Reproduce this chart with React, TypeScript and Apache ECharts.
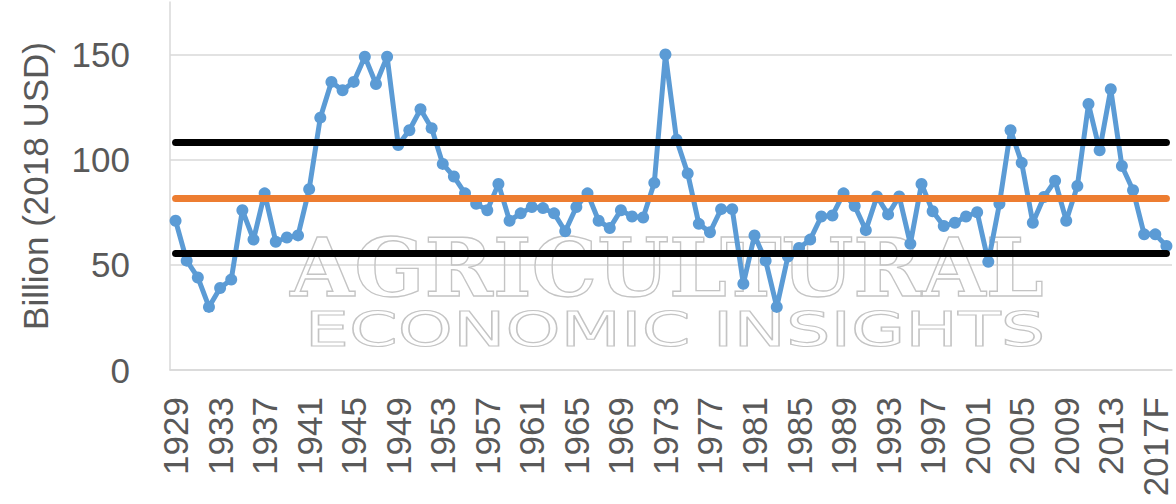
import React, { useEffect, useRef } from "react";
import * as echarts from "echarts";

// Categories (years); the last two are forecasts
const categories: string[] = [
  "1929", "1930", "1931", "1932", "1933", "1934", "1935", "1936", "1937", "1938",
  "1939", "1940", "1941", "1942", "1943", "1944", "1945", "1946", "1947", "1948",
  "1949", "1950", "1951", "1952", "1953", "1954", "1955", "1956", "1957", "1958",
  "1959", "1960", "1961", "1962", "1963", "1964", "1965", "1966", "1967", "1968",
  "1969", "1970", "1971", "1972", "1973", "1974", "1975", "1976", "1977", "1978",
  "1979", "1980", "1981", "1982", "1983", "1984", "1985", "1986", "1987", "1988",
  "1989", "1990", "1991", "1992", "1993", "1994", "1995", "1996", "1997", "1998",
  "1999", "2000", "2001", "2002", "2003", "2004", "2005", "2006", "2007", "2008",
  "2009", "2010", "2011", "2012", "2013", "2014", "2015", "2016", "2017F", "2018F",
];

// Billion (2018 USD)
const values: number[] = [
  71, 52, 44, 30, 39, 43, 76, 62, 84, 61,
  63, 64, 86, 120, 137, 133, 137, 149, 136, 149,
  107, 114, 124, 115, 98, 92, 84, 79, 76, 88.5,
  71, 74.5, 77.5, 77, 74.5, 66, 77.5, 84, 71, 67.5,
  76, 73, 72.5, 89, 150, 109.5, 93.5, 69.5, 65.5, 76.5,
  76.5, 41, 64, 52, 30, 54, 58, 62, 73, 73.5,
  84, 78, 66.5, 82.5, 74, 82.5, 60, 88.5, 75.5, 68.5,
  70, 73, 75, 51.5, 79, 114, 98.5, 70, 82.3, 90,
  71, 87.5, 126.5, 104.5, 133.5, 97, 85.5, 64.5, 64.5, 59,
];

// Reference lines: average and ±1 standard deviation
const meanValue = 81.5;
const upperValue = 108.4;
const lowerValue = 55.6;

const yTickLabels = ["0", "50", "100", "150"];
const yAxisTitle = "Billion (2018 USD)";
const watermarkTop = "AGRICULTURAL";
const watermarkBottom = "ECONOMIC INSIGHTS";

const FONT = "Liberation Sans";
const TEXT_COLOR = "#595959";
const GRID_COLOR = "#d9d9d9";

function refLine(value: number, color: string, name: string) {
  return {
    name,
    type: "line",
    data: [],
    z: 4,
    markLine: {
      silent: true,
      symbol: "none",
      animation: false,
      label: { show: false },
      lineStyle: { color, width: 7, type: "solid", cap: "round" },
      data: [
        [
          { coord: [categories[0], value] },
          { coord: [categories[categories.length - 1], value] },
        ],
      ],
    },
  };
}

export default function App() {
  const ref = useRef<HTMLDivElement>(null);

  useEffect(() => {
    if (!ref.current) return;
    const chart = echarts.init(ref.current, null, { renderer: "svg" });
    chart.setOption({
      animation: false,
      backgroundColor: "#ffffff",
      grid: { left: 170, right: 4, top: 2, bottom: 134, containLabel: false },
      graphic: [
        {
          type: "text",
          z: 1,
          x: 667,
          y: 268,
          scaleX: 1.03,
          silent: true,
          style: {
            text: watermarkTop,
            fontFamily: "DejaVu Serif",
            fontWeight: "bold",
            fontSize: 80,
            fill: "rgba(255,255,255,0)",
            stroke: "#c4c4c4",
            lineWidth: 1.3,
            textAlign: "center",
            textVerticalAlign: "middle",
          },
        },
        {
          type: "text",
          z: 1,
          x: 675,
          y: 329,
          scaleX: 1.46,
          silent: true,
          style: {
            text: watermarkBottom,
            fontFamily: "DejaVu Sans",
            fontSize: 48,
            fill: "rgba(255,255,255,0)",
            stroke: "#c4c4c4",
            lineWidth: 1.1,
            textAlign: "center",
            textVerticalAlign: "middle",
          },
        },
      ],
      xAxis: {
        type: "category",
        data: categories,
        boundaryGap: true,
        axisLine: { show: true, lineStyle: { color: GRID_COLOR, width: 1.5 } },
        axisTick: { show: false },
        splitLine: { show: false },
        axisLabel: {
          interval: 3,
          rotate: 90,
          margin: 27,
          fontSize: 35,
          fontFamily: FONT,
          color: TEXT_COLOR,
        },
      },
      yAxis: {
        type: "value",
        min: 0,
        max: 175,
        interval: 50,
        name: yAxisTitle,
        nameLocation: "middle",
        nameGap: 117,
        nameTextStyle: { fontSize: 35, fontFamily: FONT, color: TEXT_COLOR },
        axisLine: { show: true, lineStyle: { color: GRID_COLOR, width: 1.5 } },
        axisTick: { show: false },
        splitLine: {
          show: true,
          showMaxLine: false,
          lineStyle: { color: GRID_COLOR, width: 1.5 },
        },
        axisLabel: {
          margin: 40,
          fontSize: 35,
          fontFamily: FONT,
          color: TEXT_COLOR,
          formatter: (v: number) => {
            const s = String(v);
            return yTickLabels.indexOf(s) >= 0 ? s : "";
          },
        },
      },
      series: [
        {
          name: "Net farm income",
          type: "line",
          data: values,
          z: 3,
          clip: false,
          showSymbol: true,
          showAllSymbol: true,
          symbol: "circle",
          symbolSize: 12,
          itemStyle: { color: "#5b9bd5" },
          lineStyle: { color: "#5b9bd5", width: 5, cap: "round", join: "round" },
        },
        refLine(meanValue, "#ed7d31", "Average"),
        refLine(upperValue, "#000000", "Upper"),
        refLine(lowerValue, "#000000", "Lower"),
      ],
    });
    return () => chart.dispose();
  }, []);

  return (
    <div
      ref={ref}
      style={{ position: "fixed", left: 0, top: 0, width: 1176, height: 504, background: "#fff" }}
    />
  );
}
